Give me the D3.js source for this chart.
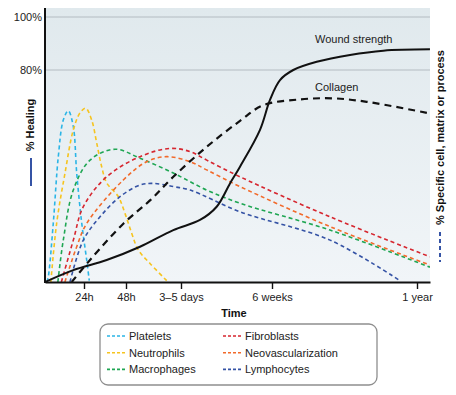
<!DOCTYPE html>
<html>
<head>
<meta charset="utf-8">
<script src="https://cdn.jsdelivr.net/npm/d3@7"></script>
<style>
  body { margin: 0; background: #fff; }
  text { font-family: "Liberation Sans", Arial, Helvetica, sans-serif; }
</style>
</head>
<body>
<div id="chart"></div>
<script>

// x values are days after injury, y values are percent
var tickDays = [1, 2, 4, 42, 365];
var tickLabels = ["24h", "48h", "3\u20135 days", "6 weeks", "1 year"];
var gridValues = [80, 100];

var platelets = [[0.05, 0], [0.085, 2], [0.213, 22.3], [0.341, 47.3], [0.469, 61.1], [0.597, 64.6],
  [0.726, 58.6], [0.813, 41.1], [0.941, 22.3], [1.064, 8.3], [1.126, 0.5]];
var neutrophils = [[0.15, 0], [0.3, 22.3], [0.513, 41.1], [0.726, 57.4], [0.897, 63.8], [1.04, 65.6],
  [1.183, 61.1], [1.302, 52.5], [1.421, 43.5], [1.54, 37.4], [1.817, 32.2], [1.976, 25.9],
  [2.207, 18.4], [2.447, 12.1], [2.873, 7.0], [3.48, 0.5]];
var macrophages = [[0.33, 0], [0.469, 15.8], [0.726, 34.7], [1.143, 46.0], [1.738, 50.1], [2.509, 46.7],
  [3.72, 41.1], [14.73, 34.7], [28.64, 29.7], [171.2, 19.6], [393.9, 5.6]];
var fibroblasts = [[0.42, 0], [0.726, 15.8], [0.982, 28.4], [1.54, 39.7], [2.509, 47.3], [3.6, 50.4],
  [7.76, 49.2], [14.73, 46.0], [28.64, 39.7], [171.2, 24.6], [393.9, 9.5]];
var neovascularization = [[0.51, 0], [0.813, 13.3], [1.064, 22.1], [1.936, 38.5], [2.753, 45.4], [3.48, 47.3],
  [7.76, 45.4], [14.73, 42.3], [28.64, 36.0], [171.2, 20.9], [393.9, 6.4]];
var lymphocytes = [[0.64, 0], [0.982, 15.8], [1.381, 24.6], [1.857, 32.2], [2.509, 36.6], [2.993, 37.2],
  [3.72, 36.0], [7.76, 34.7], [28.64, 26.5], [171.2, 15.8], [327.1, 0.5]];
var collagen = [[0.685, 0], [1.143, 8.3], [1.936, 22.0], [2.873, 30.8], [3.72, 39.7], [14.73, 51.0],
  [28.64, 60.8], [38.37, 66.7], [104.4, 68.9], [178.6, 69.3], [252.9, 68.0], [393.9, 63.6]];
var woundStrength = [[0, 0], [0.726, 4.5], [1.54, 8.3], [2.509, 13.3], [3.72, 19.6], [11.93, 23.4],
  [18.89, 28.4], [24.46, 37.2], [28.64, 43.5], [36.99, 57.4], [41.16, 68.7], [59.8, 76.2],
  [89.4, 80.0], [141.6, 83.1], [215.8, 85.7], [290, 87.3], [393.9, 87.8]];

var cellNames = ["Platelets", "Neutrophils", "Macrophages", "Fibroblasts", "Neovascularization", "Lymphocytes"];
var cellColors = ["#2bb5e6", "#f6c41f", "#1fa653", "#d6262f", "#f26a2b", "#3553a5"];
var cellData = [platelets, neutrophils, macrophages, fibroblasts, neovascularization, lymphocytes];

var svgWidth = 456;
var svgHeight = 395;

var svg = d3.select("#chart")
  .append("svg")
  .attr("width", svgWidth)
  .attr("height", svgHeight);

// plot box
var plotLeft = 45, plotRight = 430, plotTop = 8, plotBottom = 282;

// time axis is stretched piece by piece (hours, days, weeks, year)
var xScale = d3.scaleLinear()
  .domain([0, 1, 2, 4, 42, 365, 394])
  .range([plotLeft, 84, 126, 181, 272, 417, plotRight]);

var yScale = d3.scaleLinear()
  .domain([0, 100])
  .range([plotBottom, 17]);

// background gradient
var defs = svg.append("defs");
var grad = defs.append("linearGradient")
  .attr("id", "panelFill")
  .attr("x1", 0).attr("y1", 0).attr("x2", 0).attr("y2", 1);
grad.append("stop").attr("offset", "0%").attr("stop-color", "#e0e9ed");
grad.append("stop").attr("offset", "100%").attr("stop-color", "#f1f5f8");

defs.append("clipPath").attr("id", "plotClip")
  .append("rect")
  .attr("x", plotLeft).attr("y", plotTop)
  .attr("width", plotRight - plotLeft).attr("height", plotBottom - plotTop);

svg.append("rect")
  .attr("x", plotLeft)
  .attr("y", plotTop)
  .attr("width", plotRight - plotLeft)
  .attr("height", plotBottom - plotTop)
  .attr("fill", "url(#panelFill)");

// gridlines
svg.selectAll(".grid")
  .data(gridValues)
  .enter()
  .append("line")
  .attr("x1", plotLeft)
  .attr("x2", plotRight)
  .attr("y1", d => yScale(d))
  .attr("y2", d => yScale(d))
  .attr("stroke", "#b3bcc1")
  .attr("stroke-width", 1.2);

// y labels
var leftAxis = d3.axisLeft(yScale)
  .tickValues(gridValues)
  .tickFormat(d => d + "%")
  .tickSize(0)
  .tickPadding(3);

var yAxisG = svg.append("g")
  .attr("transform", `translate(${plotLeft}, 0)`)
  .call(leftAxis);
yAxisG.select(".domain").remove();
yAxisG.selectAll("text")
  .attr("font-size", 11)
  .attr("fill", "#222");

// curves
var line = d3.line()
  .x(d => xScale(d[0]))
  .y(d => yScale(d[1]))
  .curve(d3.curveCatmullRom.alpha(0.5));

var plot = svg.append("g").attr("clip-path", "url(#plotClip)");

plot.selectAll(".cell")
  .data(cellData)
  .enter()
  .append("path")
  .attr("class", "cell")
  .attr("d", d => line(d))
  .attr("fill", "none")
  .attr("stroke", (d, i) => cellColors[i])
  .attr("stroke-width", 1.6)
  .attr("stroke-dasharray", "4,3");

plot.append("path")
  .attr("d", line(collagen))
  .attr("fill", "none")
  .attr("stroke", "#111")
  .attr("stroke-width", 2.2)
  .attr("stroke-dasharray", "7,5");

plot.append("path")
  .attr("d", line(woundStrength))
  .attr("fill", "none")
  .attr("stroke", "#111")
  .attr("stroke-width", 2);

// curve names
svg.append("text")
  .attr("x", 315)
  .attr("y", 43)
  .attr("font-size", 11)
  .attr("fill", "#222")
  .text("Wound strength");

svg.append("text")
  .attr("x", 315)
  .attr("y", 91)
  .attr("font-size", 11)
  .attr("fill", "#222")
  .text("Collagen");

// axes lines
var bottomAxis = d3.axisBottom(xScale)
  .tickValues(tickDays)
  .tickFormat((d, i) => tickLabels[i])
  .tickSize(7)
  .tickSizeOuter(0)
  .tickPadding(4);

var xAxisG = svg.append("g")
  .attr("transform", `translate(0, ${plotBottom})`)
  .call(bottomAxis);
xAxisG.select(".domain")
  .attr("stroke", "#111")
  .attr("stroke-width", 2);
xAxisG.selectAll(".tick line")
  .attr("stroke", "#111")
  .attr("stroke-width", 1.4);
xAxisG.selectAll("text")
  .attr("font-size", 11)
  .attr("fill", "#222");

svg.append("line")
  .attr("x1", plotLeft).attr("x2", plotLeft)
  .attr("y1", plotTop).attr("y2", plotBottom + 1)
  .attr("stroke", "#111")
  .attr("stroke-width", 2);

svg.append("text")
  .attr("x", 234)
  .attr("y", 317)
  .attr("text-anchor", "middle")
  .attr("font-size", 11)
  .attr("font-weight", "bold")
  .attr("fill", "#111")
  .text("Time");

// left title with solid key
svg.append("text")
  .attr("transform", "translate(34, 125) rotate(-90)")
  .attr("text-anchor", "middle")
  .attr("font-size", 11)
  .attr("font-weight", "bold")
  .attr("fill", "#111")
  .text("% Healing");

svg.append("line")
  .attr("x1", 31).attr("x2", 31)
  .attr("y1", 158).attr("y2", 186)
  .attr("stroke", "#3553a5")
  .attr("stroke-width", 2);

// right title with dashed key
svg.append("text")
  .attr("transform", "translate(444, 225) rotate(-90)")
  .attr("text-anchor", "start")
  .attr("font-size", 11)
  .attr("font-weight", "bold")
  .attr("fill", "#111")
  .text("% Specific cell, matrix or process");

svg.append("line")
  .attr("x1", 440).attr("x2", 440)
  .attr("y1", 232).attr("y2", 262)
  .attr("stroke", "#3553a5")
  .attr("stroke-width", 2)
  .attr("stroke-dasharray", "4,3");

// legend
var legend = svg.append("g");

legend.append("rect")
  .attr("x", 100)
  .attr("y", 324)
  .attr("width", 277)
  .attr("height", 61)
  .attr("rx", 8)
  .attr("fill", "#fff")
  .attr("stroke", "#8e8e8e")
  .attr("stroke-width", 1.3);

var items = legend.selectAll(".item")
  .data(cellNames)
  .enter()
  .append("g")
  .attr("transform", (d, i) => `translate(${107 + Math.floor(i / 3) * 116}, ${336 + (i % 3) * 16.7})`);

items.append("line")
  .attr("x1", 0).attr("x2", 20)
  .attr("stroke", (d, i) => cellColors[i])
  .attr("stroke-width", 1.6)
  .attr("stroke-dasharray", "3,2");

items.append("text")
  .attr("x", 22)
  .attr("dy", "0.35em")
  .attr("font-size", 11)
  .attr("fill", "#222")
  .text(d => d);

</script>
</body>
</html>
